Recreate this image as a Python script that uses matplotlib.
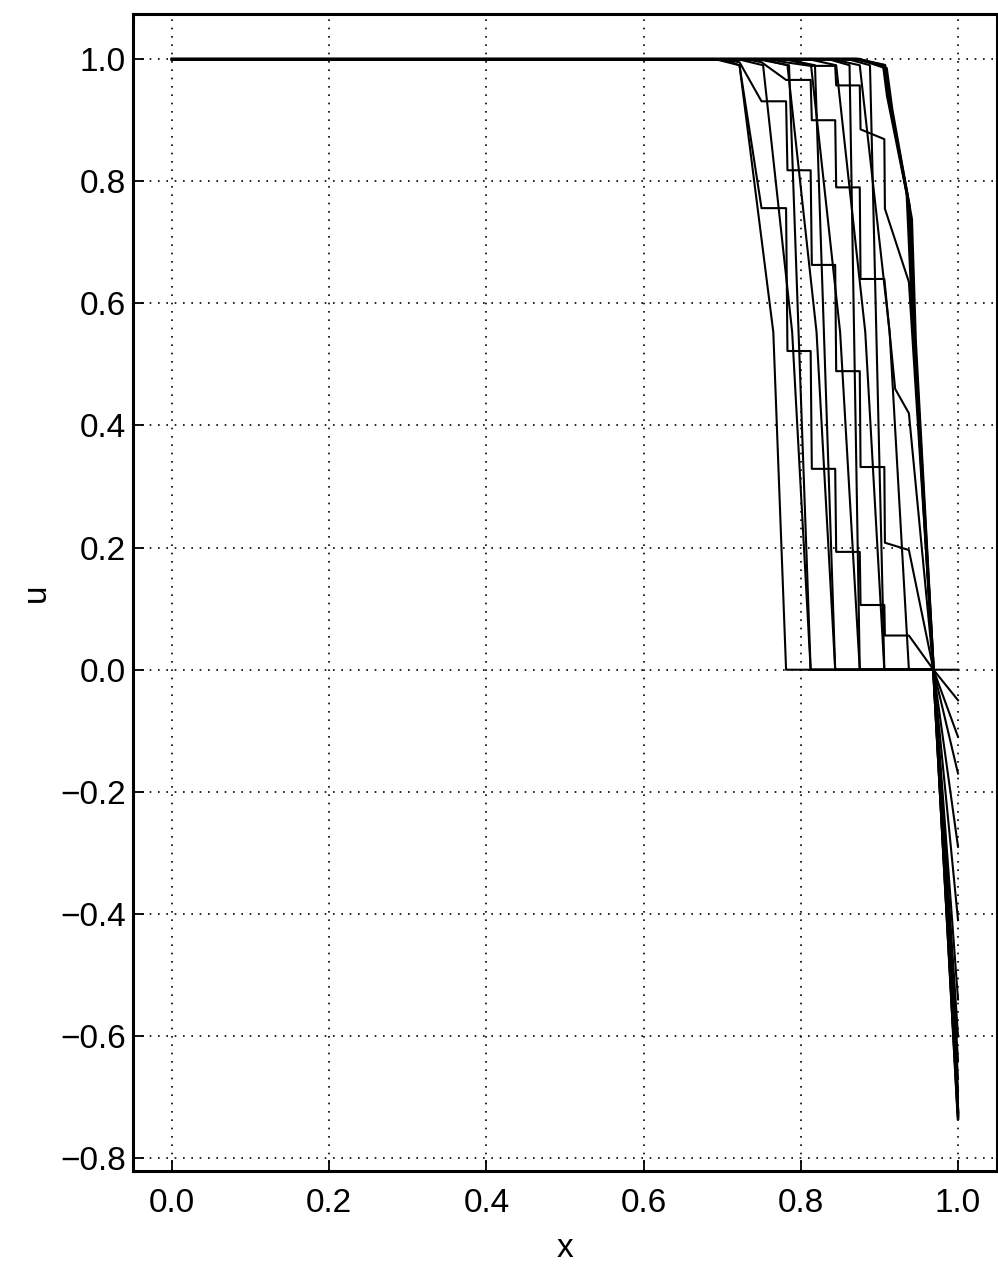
import matplotlib.pyplot as plt

plt.rcParams['font.family'] = ['Liberation Sans', 'DejaVu Sans']

# punto donde todas las curvas cruzan u = 0, y extremo derecho
x_conv = 0.96875
x_fin = 1.0

# frentes rectos (F) : tramo superior hasta u = 0
x_f1 = [0.0, 0.691, 0.722, 0.765, 0.78125]
u_f1 = [1.0, 1.0, 0.99, 0.553, 0.0]
x_f2 = [0.0, 0.72, 0.752, 0.789, 0.8125]
u_f2 = [1.0, 1.0, 0.99, 0.553, 0.0]
x_f3 = [0.0, 0.75, 0.783, 0.82, 0.84375]
u_f3 = [1.0, 1.0, 0.99, 0.553, 0.0]
x_f4 = [0.0, 0.78, 0.813, 0.85, 0.875]
u_f4 = [1.0, 1.0, 0.99, 0.553, 0.0]
x_f5 = [0.0, 0.81, 0.845, 0.882, 0.90625]
u_f5 = [1.0, 1.0, 0.99, 0.553, 0.0]
x_f6 = [0.0, 0.84, 0.875, 0.913, 0.9375]
u_f6 = [1.0, 1.0, 0.99, 0.553, 0.0]

# frentes casi verticales (G)
x_g2 = [0.0, 0.745, 0.785, 0.8125]
u_g2 = [1.0, 1.0, 0.99, 0.0]
x_g3 = [0.0, 0.78, 0.818, 0.84375]
u_g3 = [1.0, 1.0, 0.99, 0.0]
x_g4 = [0.0, 0.835, 0.862, 0.875]
u_g4 = [1.0, 1.0, 0.99, 0.0]
x_g5 = [0.0, 0.86, 0.888, 0.90625]
u_g5 = [1.0, 1.0, 0.99, 0.0]

# escalones (S)
x_s1 = [0.0, 0.70, 0.722, 0.75, 0.78125, 0.783, 0.8125, 0.814, 0.84375, 0.845,
        0.875, 0.876, 0.90625, 0.907, 0.9375, 0.96875]
u_s1 = [1.0, 1.0, 0.99, 0.756, 0.756, 0.522, 0.522, 0.329, 0.329, 0.193,
        0.193, 0.106, 0.106, 0.056, 0.056, 0.0]
x_s2 = [0.0, 0.70, 0.722, 0.75, 0.78125, 0.783, 0.8125, 0.814, 0.84375, 0.845,
        0.875, 0.876, 0.90625, 0.907, 0.9375, 0.96875]
u_s2 = [1.0, 1.0, 0.995, 0.931, 0.931, 0.818, 0.818, 0.663, 0.663, 0.489,
        0.489, 0.332, 0.332, 0.208, 0.196, 0.0]
x_s3 = [0.0, 0.73, 0.75, 0.78125, 0.8125, 0.814, 0.84375, 0.845, 0.875, 0.876,
        0.90625, 0.92, 0.9375, 0.96875]
u_s3 = [1.0, 1.0, 0.995, 0.966, 0.966, 0.900, 0.900, 0.79, 0.79, 0.64,
        0.64, 0.46, 0.42, 0.0]
x_s4 = [0.0, 0.76, 0.78, 0.8125, 0.84375, 0.845, 0.875, 0.876, 0.90625, 0.907,
        0.9375, 0.96875]
u_s4 = [1.0, 1.0, 0.995, 0.989, 0.989, 0.957, 0.957, 0.885, 0.869, 0.755,
        0.635, 0.0]

# curvas finales (K), casi superpuestas
x_k1 = [0.0, 0.875, 0.909, 0.916, 0.941, 0.946, 0.96875]
u_k1 = [1.0, 1.0, 0.985, 0.918, 0.738, 0.537, 0.0]
x_k2 = [0.0, 0.872, 0.907, 0.913, 0.938, 0.944, 0.96875]
u_k2 = [1.0, 1.0, 0.99, 0.93, 0.76, 0.56, 0.0]
x_k3 = [0.0, 0.87, 0.905, 0.91, 0.935, 0.942, 0.96875]
u_k3 = [1.0, 1.0, 0.99, 0.94, 0.78, 0.58, 0.0]

curvas = [(x_f1, u_f1), (x_s1, u_s1), (x_f2, u_f2), (x_g2, u_g2), (x_s2, u_s2),
          (x_f3, u_f3), (x_g3, u_g3), (x_s3, u_s3), (x_f4, u_f4), (x_g4, u_g4),
          (x_s4, u_s4), (x_f5, u_f5), (x_g5, u_g5), (x_f6, u_f6),
          (x_k3, u_k3), (x_k2, u_k2), (x_k1, u_k1)]

# valor de u en x = 1 para cada curva
u_final = [0.0, -0.05, -0.11, -0.17, -0.29, -0.41, -0.54, -0.60, -0.64,
           -0.67, -0.69, -0.70, -0.71, -0.72, -0.725, -0.73, -0.735]

xticks = [0.0, 0.2, 0.4, 0.6, 0.8, 1.0]
yticks = [-0.8, -0.6, -0.4, -0.2, 0.0, 0.2, 0.4, 0.6, 0.8, 1.0]

fig = plt.figure(figsize=(9.98, 12.71), dpi=100)
ax = fig.add_axes([0.1333, 0.0787, 0.8657, 0.9103])

for i, ((xs, us), uf) in enumerate(zip(curvas, u_final)):
    xx = list(xs) + [x_conv, x_fin]
    uu = list(us) + [0.0, uf]
    lw = 2.0 if i >= 14 else 1.5
    ax.plot(xx, uu, color='black', linewidth=lw)

ax.set_xlim(-0.0496, 1.0496)
ax.set_ylim(-0.821, 1.074)
ax.set_xticks(xticks)
ax.set_yticks(yticks)
ax.set_xticklabels(['%.1f' % v for v in xticks])
ax.set_yticklabels(['%.1f' % v if v >= 0 else '\u2212%.1f' % -v for v in yticks])

ax.grid(True, color='black', linestyle=(0, (1, 4)), linewidth=1.2)
for s in ax.spines.values():
    s.set_linewidth(2.2)

ax.tick_params(axis='both', direction='in', length=8, width=1.3, labelsize=24)
ax.tick_params(axis='x', pad=12)
ax.tick_params(axis='y', pad=5)

ax.set_xlabel('x', fontsize=24, labelpad=10)
ax.set_ylabel('u', fontsize=24, labelpad=6)

fig.savefig('out.png', dpi=100)
